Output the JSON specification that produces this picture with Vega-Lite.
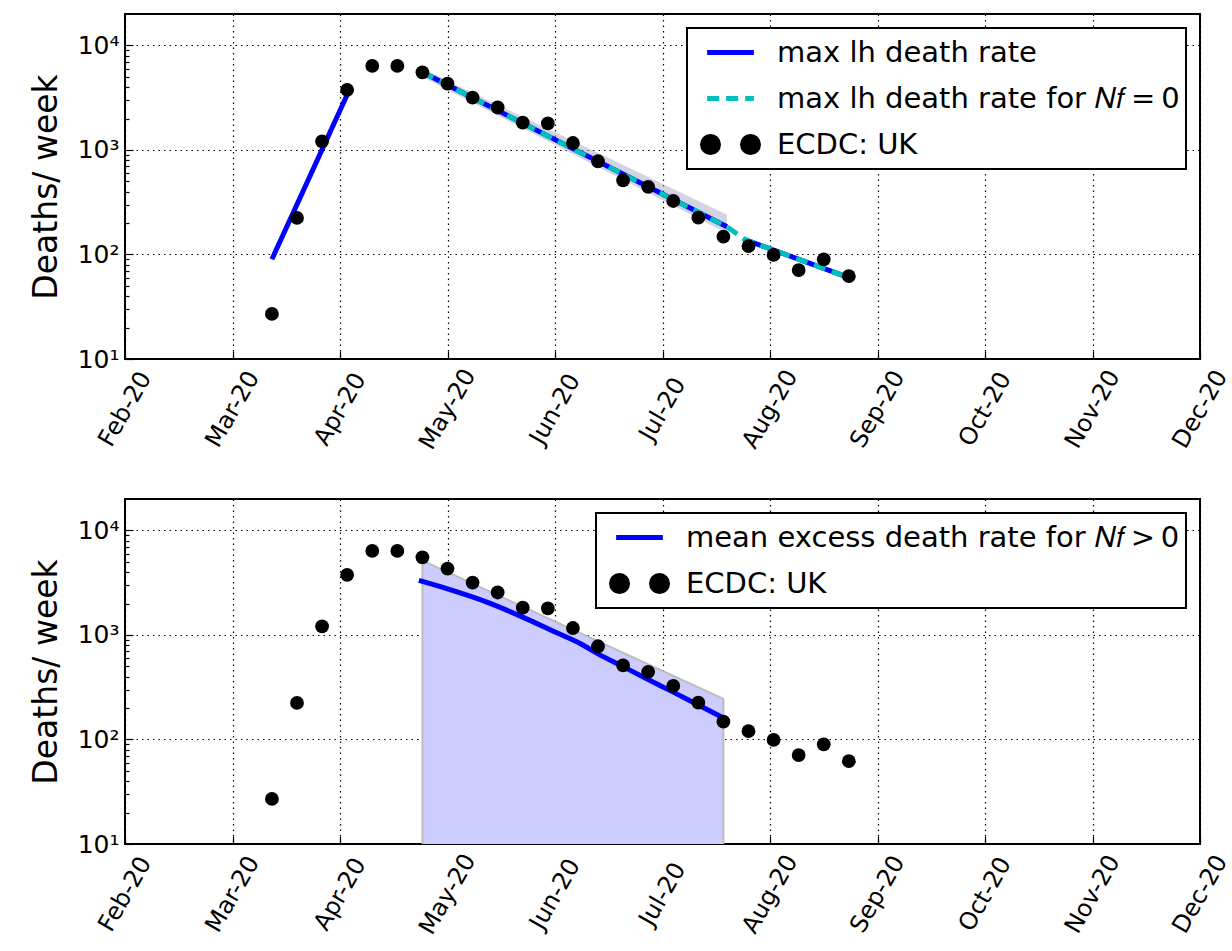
{
  "$schema": "https://vega.github.io/schema/vega-lite/v6.json",
  "background": "white",
  "padding": {"left": 29, "top": 13, "right": 10, "bottom": 5},
  "spacing": 43,
  "datasets": {
    "ecdc": [
      {"date": "2020-03-17", "v": 27},
      {"date": "2020-03-24", "v": 224},
      {"date": "2020-03-31", "v": 1210},
      {"date": "2020-04-07", "v": 3760},
      {"date": "2020-04-14", "v": 6370},
      {"date": "2020-04-21", "v": 6370},
      {"date": "2020-04-28", "v": 5530},
      {"date": "2020-05-05", "v": 4320},
      {"date": "2020-05-12", "v": 3175},
      {"date": "2020-05-19", "v": 2550},
      {"date": "2020-05-26", "v": 1825},
      {"date": "2020-06-02", "v": 1795},
      {"date": "2020-06-09", "v": 1166},
      {"date": "2020-06-16", "v": 780},
      {"date": "2020-06-23", "v": 511},
      {"date": "2020-06-30", "v": 444},
      {"date": "2020-07-07", "v": 325},
      {"date": "2020-07-14", "v": 225},
      {"date": "2020-07-21", "v": 148},
      {"date": "2020-07-28", "v": 120},
      {"date": "2020-08-04", "v": 99},
      {"date": "2020-08-11", "v": 71},
      {"date": "2020-08-18", "v": 90},
      {"date": "2020-08-25", "v": 62}
    ],
    "maxlh": [
      {"date": "2020-03-17", "v": 90, "seg": "early"},
      {"date": "2020-04-07", "v": 3370, "seg": "early"},
      {"date": "2020-04-28", "v": 5530, "seg": "mid"},
      {"date": "2020-07-22", "v": 184, "seg": "mid"},
      {"date": "2020-07-27", "v": 139, "seg": "late"},
      {"date": "2020-08-25", "v": 60, "seg": "late"}
    ],
    "maxlh0": [
      {"date": "2020-04-28", "v": 5530},
      {"date": "2020-07-22", "v": 184},
      {"date": "2020-07-27", "v": 139},
      {"date": "2020-08-25", "v": 60}
    ],
    "band": [
      {"date": "2020-04-28", "v": 5000, "hi": 6000},
      {"date": "2020-07-22", "v": 160, "hi": 240}
    ],
    "mean": [
      {"date": "2020-04-27", "v": 3323},
      {"date": "2020-05-05", "v": 2761},
      {"date": "2020-05-16", "v": 2064},
      {"date": "2020-05-26", "v": 1482},
      {"date": "2020-06-04", "v": 1067},
      {"date": "2020-06-11", "v": 828},
      {"date": "2020-06-16", "v": 660},
      {"date": "2020-06-23", "v": 498},
      {"date": "2020-06-30", "v": 375},
      {"date": "2020-07-07", "v": 284},
      {"date": "2020-07-14", "v": 214},
      {"date": "2020-07-21", "v": 161}
    ],
    "meanband": [
      {"date": "2020-04-28", "v": 1, "hi": 5160},
      {"date": "2020-07-21", "v": 1, "hi": 245}
    ]
  },
  "config": {
    "font": "DejaVu Sans",
    "view": {"stroke": "black", "strokeWidth": 2},
    "axis": {
      "labelFont": "DejaVu Sans", "labelColor": "black",
      "titleFont": "DejaVu Sans", "titleFontWeight": "normal", "titleColor": "black",
      "gridColor": "black", "gridDash": [1.5, 4], "gridWidth": 1.2, "gridOpacity": 1,
      "domain": false, "tickColor": "black", "tickWidth": 1.2
    },
    "legend": {
      "orient": "top-right", "offset": 14,
      "fillColor": "white", "strokeColor": "black",
      "padding": 6, "cornerRadius": 0,
      "labelFont": "DejaVu Sans", "labelFontSize": 29, "labelColor": "black",
      "labelLimit": 800, "symbolSize": 1024, "symbolOffset": 19, "labelOffset": 28,
      "rowPadding": 12, "symbolStrokeWidth": 5
    }
  },
  "resolve": {"scale": {"color": "independent"}, "legend": {"color": "independent"}},
  "vconcat": [
    {
      "width": 1075,
      "height": 345,
      "encoding": {
        "x": {
          "field": "date", "type": "temporal",
          "scale": {"type": "utc", "domain": [1580860800000, 1606780800000]},
          "axis": {
            "title": null,
            "values": [1580860800000, 1583452800000, 1586044800000, 1588636800000, 1591228800000, 1593820800000, 1596412800000, 1599004800000, 1601596800000, 1604188800000, 1606780800000],
            "labelExpr": "utcFormat(datum.value, '%b-%y')",
            "labelAngle": -60, "labelAlign": "center", "labelBaseline": "middle",
            "labelFontSize": 24, "labelPadding": 58, "tickSize": -8, "labelFlush": false, "labelOverlap": false
          }
        },
        "y": {
          "field": "v", "type": "quantitative",
          "scale": {"type": "log", "domain": [10, 20000]},
          "axis": {
            "title": "Deaths/ week", "titleFontSize": 33, "titlePadding": 14,
            "values": [10, 20, 30, 40, 50, 60, 70, 80, 90, 100, 200, 300, 400, 500, 600, 700, 800, 900, 1000, 2000, 3000, 4000, 5000, 6000, 7000, 8000, 9000, 10000],
            "labelExpr": "datum.value == 10 ? '10¹' : datum.value == 100 ? '10²' : datum.value == 1000 ? '10³' : datum.value == 10000 ? '10⁴' : ''",
            "labelFontSize": 25, "labelPadding": 14, "labelOverlap": false, "labelFlush": false,
            "tickSize": {"condition": {"test": "datum.value == 10 || datum.value == 100 || datum.value == 1000 || datum.value == 10000", "value": -8}, "value": -4},
            "gridOpacity": {"condition": {"test": "datum.value == 10 || datum.value == 100 || datum.value == 1000 || datum.value == 10000", "value": 1}, "value": 0}
          }
        }
      },
      "layer": [
        {
          "data": {"name": "band"},
          "mark": {"type": "area", "color": "#a8a8c8", "opacity": 0.5},
          "encoding": {"y2": {"field": "hi"}}
        },
        {
          "data": {"name": "maxlh"},
          "mark": {"type": "line", "strokeWidth": 5},
          "encoding": {
            "detail": {"field": "seg"},
            "color": {
              "datum": "max lh death rate",
              "scale": {"domain": ["max lh death rate", "max lh death rate for 𝑁𝑓\u2009=\u20090", "ECDC: UK"], "range": ["#0000ff", "#00bfbf", "#000000"]},
              "legend": {
                "title": null,
                "encode": {
                  "legend": {"update": {"strokeWidth": {"value": 2}}},
                  "symbols": {"update": {
                    "shape": {"signal": "datum.value === 'ECDC: UK' ? 'M-1.75,0a0.5,0.5 0 1,0 1,0a0.5,0.5 0 1,0 -1,0ZM0.75,0a0.5,0.5 0 1,0 1,0a0.5,0.5 0 1,0 -1,0Z' : 'M-1.46,0L1.46,0'"},
                    "fill": {"signal": "datum.value === 'ECDC: UK' ? '#000000' : 'transparent'"},
                    "stroke": {"signal": "datum.value === 'ECDC: UK' ? 'transparent' : (datum.value === 'max lh death rate' ? '#0000ff' : '#00bfbf')"},
                    "strokeDash": {"signal": "datum.value === 'max lh death rate' || datum.value === 'ECDC: UK' ? [] : [12, 7]"},
                    "strokeWidth": {"value": 5},
                    "opacity": {"value": 1}
                  }}
                }
              }
            }
          }
        },
        {
          "data": {"name": "maxlh0"},
          "mark": {"type": "line", "strokeWidth": 5, "strokeDash": [12, 7]},
          "encoding": {"color": {"datum": "max lh death rate for 𝑁𝑓\u2009=\u20090"}}
        },
        {
          "data": {"name": "ecdc"},
          "mark": {"type": "point", "filled": true, "size": 190, "opacity": 1},
          "encoding": {"color": {"datum": "ECDC: UK"}}
        }
      ]
    },
    {
      "width": 1075,
      "height": 345,
      "encoding": {
        "x": {
          "field": "date", "type": "temporal",
          "scale": {"type": "utc", "domain": [1580860800000, 1606780800000]},
          "axis": {
            "title": null,
            "values": [1580860800000, 1583452800000, 1586044800000, 1588636800000, 1591228800000, 1593820800000, 1596412800000, 1599004800000, 1601596800000, 1604188800000, 1606780800000],
            "labelExpr": "utcFormat(datum.value, '%b-%y')",
            "labelAngle": -60, "labelAlign": "center", "labelBaseline": "middle",
            "labelFontSize": 24, "labelPadding": 58, "tickSize": -8, "labelFlush": false, "labelOverlap": false
          }
        },
        "y": {
          "field": "v", "type": "quantitative",
          "scale": {"type": "log", "domain": [10, 20000]},
          "axis": {
            "title": "Deaths/ week", "titleFontSize": 33, "titlePadding": 14,
            "values": [10, 20, 30, 40, 50, 60, 70, 80, 90, 100, 200, 300, 400, 500, 600, 700, 800, 900, 1000, 2000, 3000, 4000, 5000, 6000, 7000, 8000, 9000, 10000],
            "labelExpr": "datum.value == 10 ? '10¹' : datum.value == 100 ? '10²' : datum.value == 1000 ? '10³' : datum.value == 10000 ? '10⁴' : ''",
            "labelFontSize": 25, "labelPadding": 14, "labelOverlap": false, "labelFlush": false,
            "tickSize": {"condition": {"test": "datum.value == 10 || datum.value == 100 || datum.value == 1000 || datum.value == 10000", "value": -8}, "value": -4},
            "gridOpacity": {"condition": {"test": "datum.value == 10 || datum.value == 100 || datum.value == 1000 || datum.value == 10000", "value": 1}, "value": 0}
          }
        }
      },
      "layer": [
        {
          "data": {"name": "meanband"},
          "mark": {"type": "area", "fill": "#ccccff", "stroke": "#bdbdbd", "strokeWidth": 2, "clip": true},
          "encoding": {"y2": {"field": "hi"}}
        },
        {
          "data": {"name": "mean"},
          "mark": {"type": "line", "strokeWidth": 5, "interpolate": "monotone"},
          "encoding": {
            "color": {
              "datum": "mean excess death rate for 𝑁𝑓\u2009>\u20090",
              "scale": {"domain": ["mean excess death rate for 𝑁𝑓\u2009>\u20090", "ECDC: UK"], "range": ["#0000ff", "#000000"]},
              "legend": {
                "title": null,
                "encode": {
                  "legend": {"update": {"strokeWidth": {"value": 2}}},
                  "symbols": {"update": {
                    "shape": {"signal": "datum.value === 'ECDC: UK' ? 'M-1.75,0a0.5,0.5 0 1,0 1,0a0.5,0.5 0 1,0 -1,0ZM0.75,0a0.5,0.5 0 1,0 1,0a0.5,0.5 0 1,0 -1,0Z' : 'M-1.46,0L1.46,0'"},
                    "fill": {"signal": "datum.value === 'ECDC: UK' ? '#000000' : 'transparent'"},
                    "stroke": {"signal": "datum.value === 'ECDC: UK' ? 'transparent' : '#0000ff'"},
                    "strokeWidth": {"value": 5},
                    "opacity": {"value": 1}
                  }}
                }
              }
            }
          }
        },
        {
          "data": {"name": "ecdc"},
          "mark": {"type": "point", "filled": true, "size": 190, "opacity": 1},
          "encoding": {"color": {"datum": "ECDC: UK"}}
        }
      ]
    }
  ]
}
